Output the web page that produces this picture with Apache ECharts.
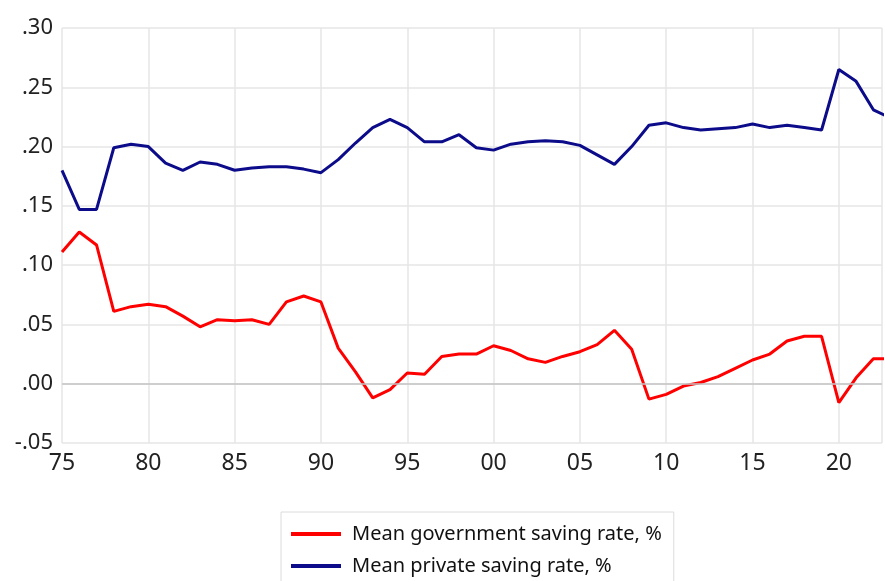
<!DOCTYPE html>
<html>
<head>
<meta charset="utf-8">
<script src="https://cdn.jsdelivr.net/npm/echarts@6/dist/echarts.min.js"></script>
<style>
html,body{margin:0;padding:0;background:#fff;}
#chart{width:885px;height:581px;}
</style>
</head>
<body>
<div id="chart"></div>
<script>
const years = [1975,1976,1977,1978,1979,1980,1981,1982,1983,1984,1985,1986,1987,1988,1989,
  1990,1991,1992,1993,1994,1995,1996,1997,1998,1999,2000,2001,2002,2003,2004,
  2005,2006,2007,2008,2009,2010,2011,2012,2013,2014,2015,2016,2017,2018,2019,
  2020,2021,2022,2023];
const govSaving = [0.111,0.128,0.117,0.061,0.065,0.067,0.065,0.057,0.048,0.054,0.053,0.054,0.050,0.069,0.074,
  0.069,0.030,0.010,-0.012,-0.005,0.009,0.008,0.023,0.025,0.025,0.032,0.028,0.021,0.018,0.023,
  0.027,0.033,0.045,0.029,-0.013,-0.009,-0.002,0.001,0.006,0.013,0.020,0.025,0.036,0.040,0.040,
  -0.016,0.005,0.021,0.021];
const privSaving = [0.180,0.147,0.147,0.199,0.202,0.200,0.186,0.180,0.187,0.185,0.180,0.182,0.183,0.183,0.181,
  0.178,0.189,0.203,0.216,0.223,0.216,0.204,0.204,0.210,0.199,0.197,0.202,0.204,0.205,0.204,
  0.201,0.193,0.185,0.200,0.218,0.220,0.216,0.214,0.215,0.216,0.219,0.216,0.218,0.216,0.214,
  0.265,0.255,0.231,0.224];
const seriesNames = ['Mean government saving rate, %','Mean private saving rate, %'];
const seriesColors = ['#ff0000','#0c0c8a'];

const font = 'Noto Sans';
const chart = echarts.init(document.getElementById('chart'), null, {renderer:'canvas'});
const pair = arr => years.map((y,i)=>[y, arr[i]]);
chart.setOption({
  animation:false,
  backgroundColor:'#ffffff',
  grid:{left:62, right:0, top:28, bottom:138, containLabel:false},
  xAxis:{
    type:'value', min:1975, max:2022.5, interval:5,
    axisLine:{show:false}, axisTick:{show:false},
    splitLine:{show:true, lineStyle:{color:'#e6e6e6', width:1.5}},
    axisLabel:{
      fontFamily:font, fontSize:23, color:'#222', margin:9,
      formatter: v => (v % 5 === 0) ? String(v % 100).padStart(2,'0') : ''
    }
  },
  yAxis:{
    type:'value', min:-0.05, max:0.30, interval:0.05,
    axisLine:{show:false}, axisTick:{show:false},
    splitLine:{show:true, lineStyle:{color:'#e6e6e6', width:1.5}},
    axisLabel:{
      fontFamily:font, fontSize:22, color:'#222', margin:9,
      formatter: v => v.toFixed(2).replace('0.', '.')
    }
  },
  legend:{
    orient:'vertical', left:281, top:512,
    height:90,
    borderColor:'#dcdcdc', borderWidth:1,
    padding:[10,12,30,10],
    itemWidth:50, itemHeight:4, itemGap:8,
    icon:'rect',
    textStyle:{fontFamily:font, fontSize:20, color:'#111', lineHeight:24, padding:[0,0,0,6]},
    data:seriesNames
  },
  series:[
    {name:seriesNames[0], type:'line', data:pair(govSaving), showSymbol:false, clip:true,
     lineStyle:{color:seriesColors[0], width:3}, itemStyle:{color:seriesColors[0]},
     markLine:{silent:true, symbol:'none', label:{show:false},
       lineStyle:{color:'#c4c4c4', type:'solid', width:1.5},
       data:[{yAxis:0}]}},
    {name:seriesNames[1], type:'line', data:pair(privSaving), showSymbol:false, clip:true,
     lineStyle:{color:seriesColors[1], width:3}, itemStyle:{color:seriesColors[1]}}
  ]
});
</script>
</body>
</html>
